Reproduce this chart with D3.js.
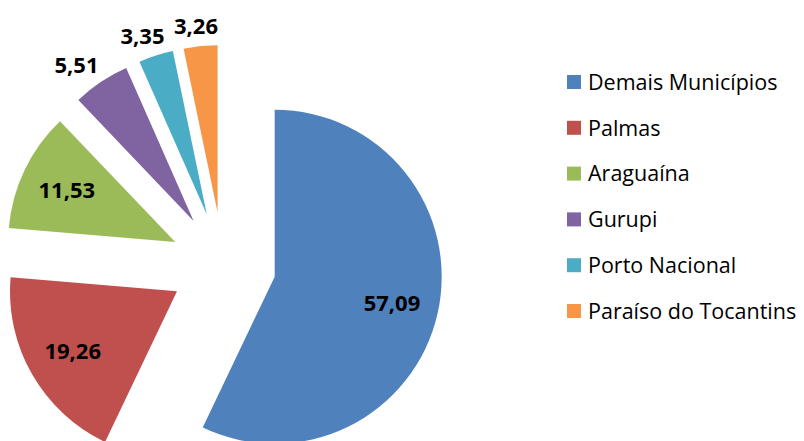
<!DOCTYPE html>
<html><head><meta charset="utf-8">
<script src="https://cdn.jsdelivr.net/npm/d3@7"></script>
<style>html,body{margin:0;padding:0;background:#fff;}svg{display:block;}</style>
</head><body>
<svg id="chart" width="804" height="441"></svg>
<script>
const categories = ["Demais Municípios","Palmas","Araguaína","Gurupi","Porto Nacional","Paraíso do Tocantins"];
const values = [57.09, 19.26, 11.53, 5.51, 3.35, 3.26];
const colors = ["#4F81BD","#C0504D","#9BBB59","#8064A2","#4BACC6","#F79646"];

const svg = d3.select("#chart");
const cx = 223, cy = 265, r = 167, explode = 53;
const fmt = v => d3.format(".2f")(v).replace(".", ",");
const labelSize = 22, capRatio = 0.714;

const pie = d3.pie().sort(null).value(d => d)(values);
const arc = d3.arc().innerRadius(0).outerRadius(r);

const g = svg.append("g").attr("transform", `translate(${cx},${cy})`);
pie.forEach((p, i) => {
  const mid = (p.startAngle + p.endAngle) / 2;
  const sx = Math.sin(mid), sy = -Math.cos(mid);
  const sg = g.append("g").attr("transform", `translate(${sx * explode},${sy * explode})`);
  sg.append("path").attr("d", arc(p)).attr("fill", colors[i]);
  const inside = values[i] > 10;
  let lx, ly;
  if (inside) {
    lx = sx * r * 0.72; ly = sy * r * 0.72;
  } else {
    const R = r + 20;
    lx = sx * R + sx * 24; ly = sy * R;
  }
  sg.append("text").attr("x", lx).attr("y", ly + labelSize * capRatio / 2)
    .attr("text-anchor", "middle")
    .attr("font-family", "'Open Sans', sans-serif").attr("font-weight", "bold")
    .attr("font-size", labelSize).attr("fill", "#000").text(fmt(values[i]));
});

const lg = svg.append("g").attr("transform", "translate(567,82)");
categories.forEach((c, i) => {
  const row = lg.append("g").attr("transform", `translate(0,${i * 45.8})`);
  row.append("rect").attr("x", 0).attr("y", -7).attr("width", 14).attr("height", 14).attr("fill", colors[i]);
  row.append("text").attr("x", 21).attr("y", 22 * capRatio / 2)
    .attr("font-family", "'Open Sans', sans-serif").attr("font-size", 21.5).attr("fill", "#000").text(c);
});
</script>
</body></html>
